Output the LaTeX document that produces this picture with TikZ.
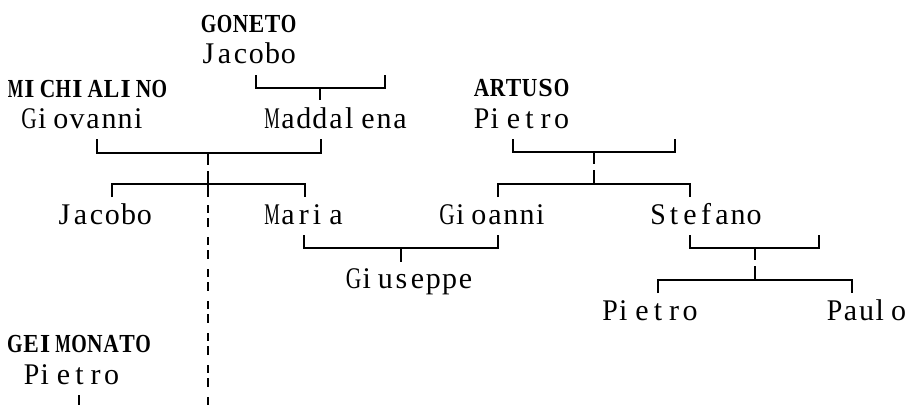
\documentclass[tikz,border=0pt]{standalone}
\usepackage{fontspec}
\usepackage{graphicx}
\setmainfont{Liberation Serif}
\makeatletter
\newdimen\mc@h
\newdimen\mc@max \mc@max=15.5pt
\newcommand\monocells[1]{\mc@loop#1\relax}
\def\mc@loop#1{\ifx\relax#1\else\mc@cell{#1}\expandafter\mc@loop\fi}
\def\mc@narrow#1{\makebox[16pt][l]{\hspace{1pt}#1}}
\def\mc@cell#1{\setbox0\hbox{#1}\mc@h=\ht0
  \ifdim\wd0>\mc@max \makebox[16pt][c]{\resizebox{\mc@max}{\mc@h}{#1}}%
  \else\ifx i#1\mc@narrow{#1}%
  \else\ifx l#1\mc@narrow{#1}%
  \else\ifx I#1\mc@narrow{#1}%
  \else\makebox[16pt][c]{#1}\fi\fi\fi\fi}
\makeatother
\begin{document}
\begin{tikzpicture}[x=1pt,y=-1pt,
  person/.style={font=\fontsize{30}{34}\selectfont, inner sep=0pt, anchor=base},
  family/.style={person, font=\fontsize{26}{30}\selectfont\bfseries},
  link/.style={line width=1.7pt, line cap=butt},
  gapstem/.style={link, dash pattern=on 12pt off 6pt on 40pt off 0pt},
  lineage/.style={link, dash pattern=on 8pt off 5pt on 9pt off 10pt}]
\useasboundingbox (0,0) rectangle (907,405);
% people
\node[family] (goneto) at (248.5,32) {\monocells{GONETO}};
\node[person] (gjacobo) at (248.5,63) {\monocells{Jacobo}};
\node[family] (mich) at (87.5,97) {\monocells{MICHIALINO}};
\node[person] (giovanni) at (85,128) {\monocells{Giovanni}};
\node[person] (maddalena) at (336,128) {\monocells{Maddalena}};
\node[family] (artuso) at (521.5,96) {\monocells{ARTUSO}};
\node[person] (apietro) at (521.5,128) {\monocells{Pietro}};
\node[person] (jacobo) at (104.5,224) {\monocells{Jacobo}};
\node[person] (maria) at (304,224) {\monocells{Maria}};
\node[person] (gioanni) at (495,224) {\monocells{Gioanni}};
\node[person] (stefano) at (706,224) {\monocells{Stefano}};
\node[person] (giuseppe) at (409.5,288) {\monocells{Giuseppe}};
\node[person] (spietro) at (650,320) {\monocells{Pietro}};
\node[person] (paulo) at (866.5,320) {\monocells{Paulo}};
\node[family] (geim) at (79,352) {\monocells{GEIMONATO}};
\node[person] (gpietro) at (71.5,384) {\monocells{Pietro}};
% junction coordinates
\coordinate (a1) at (256,75); \coordinate (a2) at (256,88);
\coordinate (a3) at (385,88); \coordinate (a4) at (385,75);
\coordinate (am) at (320,88); \coordinate (ab) at (320,100);
\coordinate (b1) at (97,139); \coordinate (b2) at (97,153);
\coordinate (b3) at (321,153); \coordinate (b4) at (321,139);
\coordinate (bm) at (208,153); \coordinate (bj) at (208,184);
\coordinate (c1) at (112,197); \coordinate (c2) at (112,184);
\coordinate (c3) at (305,184); \coordinate (c4) at (305,197);
\coordinate (bk) at (208,197); \coordinate (bd) at (208,205); \coordinate (bz) at (208,405);
\coordinate (d1) at (513,139); \coordinate (d2) at (513,152);
\coordinate (d3) at (675,152); \coordinate (d4) at (675,139);
\coordinate (dm) at (594,152); \coordinate (dj) at (594,184);
\coordinate (e1) at (498,197); \coordinate (e2) at (498,184);
\coordinate (e3) at (690,184); \coordinate (e4) at (690,197);
\coordinate (f1) at (304,235); \coordinate (f2) at (304,248);
\coordinate (f3) at (498,248); \coordinate (f4) at (498,235);
\coordinate (fm) at (401,248); \coordinate (fb) at (401,262);
\coordinate (g1) at (690,235); \coordinate (g2) at (690,248);
\coordinate (g3) at (819,248); \coordinate (g4) at (819,235);
\coordinate (gm) at (755,248); \coordinate (gj) at (755,280);
\coordinate (h1) at (658,293); \coordinate (h2) at (658,280);
\coordinate (h3) at (852,280); \coordinate (h4) at (852,293);
\coordinate (p1) at (79,395); \coordinate (p2) at (79,405);
% connectors
\draw[link] (a1) -- (a2) -- (a3) -- (a4);
\draw[link] (am) -- (ab);
\draw[link] (b1) -- (b2) -- (b3) -- (b4);
\draw[gapstem] (bm) -- (bj);
\draw[link] (c1) -- (c2) -- (c3) -- (c4);
\draw[link] (bj) -- (bk);
\draw[lineage] (bd) -- (bz);
\draw[link] (d1) -- (d2) -- (d3) -- (d4);
\draw[gapstem] (dm) -- (dj);
\draw[link] (e1) -- (e2) -- (e3) -- (e4);
\draw[link] (f1) -- (f2) -- (f3) -- (f4);
\draw[link] (fm) -- (fb);
\draw[link] (g1) -- (g2) -- (g3) -- (g4);
\draw[gapstem] (gm) -- (gj);
\draw[link] (h1) -- (h2) -- (h3) -- (h4);
\draw[link] (p1) -- (p2);
\end{tikzpicture}
\end{document}
